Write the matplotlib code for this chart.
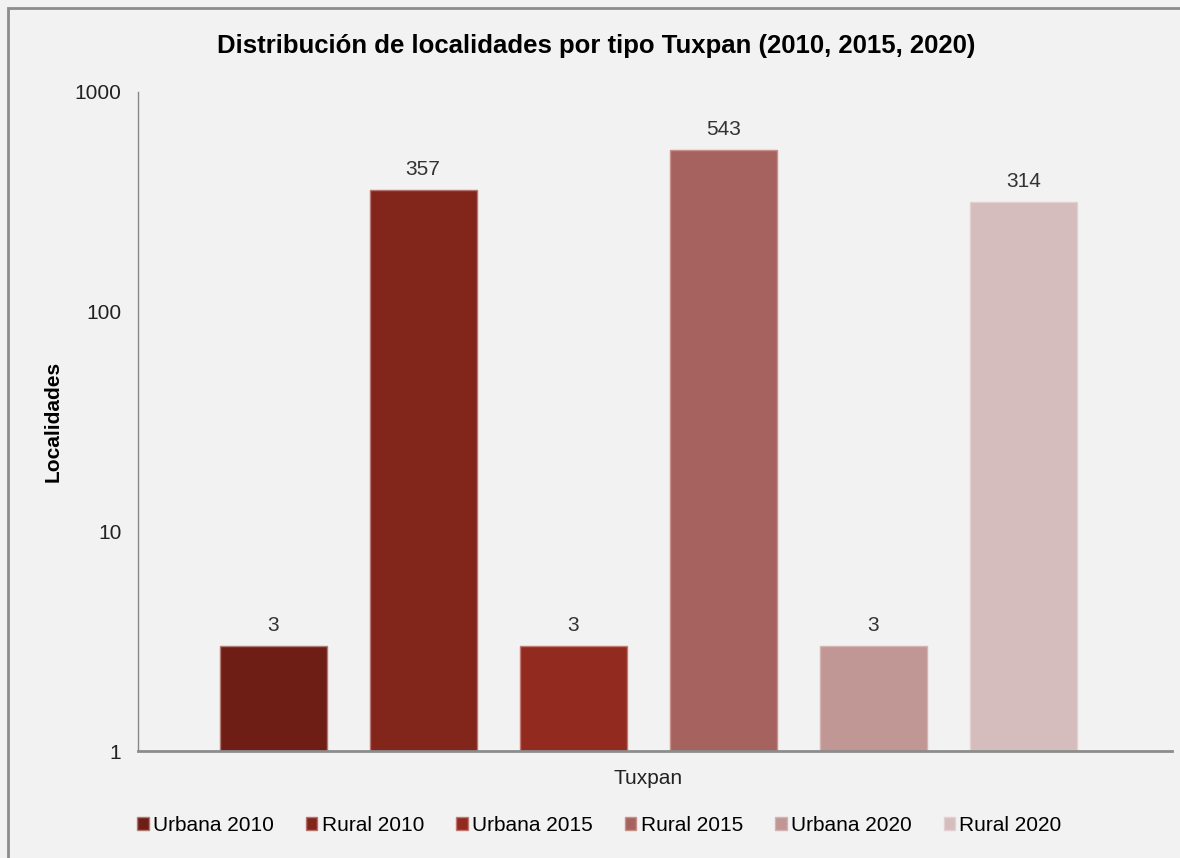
import numpy as np
import matplotlib.pyplot as plt
from matplotlib.patches import Rectangle

plt.rcParams['font.family'] = ['Liberation Sans', 'DejaVu Sans']

# localidades por tipo y año
series = ['Urbana 2010', 'Rural 2010', 'Urbana 2015', 'Rural 2015', 'Urbana 2020', 'Rural 2020']
values = [3, 357, 3, 543, 3, 314]
colors = ['#6E1E15', '#82251B', '#932A20', '#A6625E', '#C09795', '#D6BDBD']
edges = ['#B07A74', '#B5746D', '#C07A72', '#C9908B', '#D4B4B2', '#E4D0D0']
category = 'Tuxpan'

bg = '#F2F2F2'
fig = plt.figure(figsize=(11.8, 8.58), dpi=100, facecolor=bg)
ax = fig.add_axes([0.117, 0.1247, 0.876, 0.7681])
ax.set_facecolor(bg)

index = np.arange(len(series))
bar_width = 0.713
for i in index:
    ax.bar(index[i], values[i], bar_width, bottom=0, color=colors[i],
           edgecolor=edges[i], linewidth=1, label=series[i])
    ax.annotate(str(values[i]), (index[i], values[i]), xytext=(0, 8),
                textcoords='offset points', ha='center', va='bottom',
                fontsize=15, color='#333333')

ax.set_yscale('log')
ax.set_ylim(1, 1000)
ax.set_xlim(-0.9, 5.99)
ax.set_yticks([1, 10, 100, 1000])
ax.set_yticklabels(['1', '10', '100', '1000'])
ax.minorticks_off()
ax.set_xticks([2.5])
ax.set_xticklabels([category])
ax.tick_params(axis='both', length=0, colors='#222222')
ax.tick_params(axis='y', labelsize=15, pad=12)
ax.tick_params(axis='x', labelsize=15, pad=13)

for s in ['top', 'right']:
    ax.spines[s].set_visible(False)
ax.spines['left'].set_color('#888888')
ax.spines['left'].set_linewidth(1)
ax.spines['bottom'].set_color('#8C8C8C')
ax.spines['bottom'].set_linewidth(2)

fig.text(53 / 1180, 0.509, 'Localidades', rotation=90, ha='center', va='center',
         fontsize=15, fontweight='bold')
fig.text(0.505, 0.946, 'Distribución de localidades por tipo Tuxpan (2010, 2015, 2020)',
         ha='center', va='center', fontsize=18.5, fontweight='bold')

fig.legend(loc='center', bbox_to_anchor=(0.508, 0.038), ncol=6, frameon=False,
           fontsize=15, handlelength=0.55, handleheight=0.55, handletextpad=0.2,
           columnspacing=1.55)

# marco gris del gráfico
fig.patches.append(Rectangle((0.007, -0.5), 1.5, 1.4907, transform=fig.transFigure,
                             fill=False, edgecolor='#8C8C8C', linewidth=2))

fig.savefig('out.png', dpi=100, facecolor=bg)
